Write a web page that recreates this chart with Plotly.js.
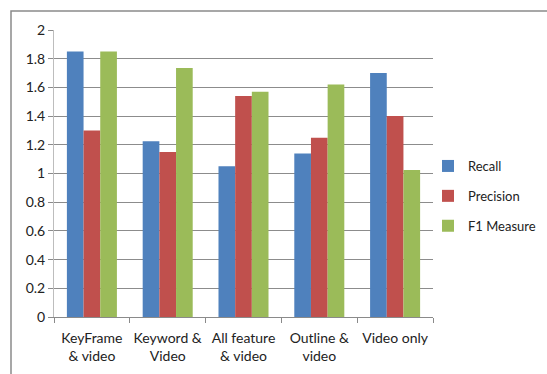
<!DOCTYPE html>
<html>
<head>
<meta charset="utf-8">
<script src="https://cdn.plot.ly/plotly-3.0.1.min.js"></script>
<style>
html,body{margin:0;padding:0;background:#fff;}
#chart{width:547px;height:374px;}
</style>
</head>
<body>
<div id="chart"></div>
<script>
const categories = ["KeyFrame<br>& video", "Keyword &<br>Video", "All feature<br>& video", "Outline &<br>video", "Video only"];
const recall = [1.85, 1.225, 1.05, 1.14, 1.70];
const precision = [1.30, 1.15, 1.54, 1.25, 1.40];
const f1 = [1.85, 1.735, 1.57, 1.62, 1.025];
const seriesNames = ["Recall", "Precision", "F1 Measure"];
const seriesColors = ["#4F81BD", "#C0504D", "#9BBB59"];
const yTicks = [0, 0.2, 0.4, 0.6, 0.8, 1, 1.2, 1.4, 1.6, 1.8, 2];

const W = 547, H = 374;
const M = {l: 54, r: 2, t: 30, b: 57};
const plotRight = 433;
const pw = W - M.l - M.r, ph = H - M.t - M.b;
const px = v => (v - M.l) / pw;
const py = v => 1 - (v - M.t) / ph;

const values = [recall, precision, f1];
const data = values.map((vals, i) => ({
  type: 'bar',
  name: seriesNames[i],
  x: categories,
  y: vals,
  marker: {color: seriesColors[i], line: {width: 0}},
  legendgroup: 'g' + i,
  hoverinfo: 'x+y+name'
}));

const layout = {
  width: W, height: H,
  margin: M,
  paper_bgcolor: '#fff',
  plot_bgcolor: '#fff',
  font: {family: 'Lato, "Open Sans", sans-serif', size: 14, color: '#222'},
  barmode: 'group',
  bargap: 0.34,
  bargroupgap: 0,
  showlegend: true,
  legend: {
    x: px(428), y: py(151), xanchor: 'left', yanchor: 'top',
    font: {size: 13, color: '#222'},
    tracegroupgap: 10,
    itemwidth: 30,
    bgcolor: 'rgba(0,0,0,0)'
  },
  xaxis: {
    domain: [0, px(plotRight)],
    type: 'category',
    showgrid: false,
    showline: true, linecolor: '#8a8a8a', linewidth: 1,
    ticks: 'outside', ticklen: 5, tickcolor: '#8a8a8a',
    tickson: 'boundaries',
    tickangle: 0,
    ticklabelstandoff: 8,
    tickfont: {size: 14, color: '#222'},
    fixedrange: true
  },
  yaxis: {
    range: [0, 2],
    tickvals: yTicks,
    ticktext: yTicks.map(String),
    showgrid: true, gridcolor: '#8c8c8c', gridwidth: 1,
    showline: true, linecolor: '#bdbdbd', linewidth: 1,
    zeroline: false,
    ticks: 'outside', ticklen: 5, tickcolor: '#8a8a8a',
    tickfont: {size: 14, color: '#222'},
    fixedrange: true
  },
  shapes: [{
    type: 'rect', xref: 'paper', yref: 'paper',
    x0: px(11), x1: px(W + 20), y0: py(H + 20), y1: py(11),
    line: {color: '#8a8a8a', width: 1.5},
    fillcolor: 'rgba(0,0,0,0)', layer: 'below'
  }]
};

Plotly.newPlot('chart', data, layout, {displayModeBar: false, staticPlot: true});
</script>
</body>
</html>
